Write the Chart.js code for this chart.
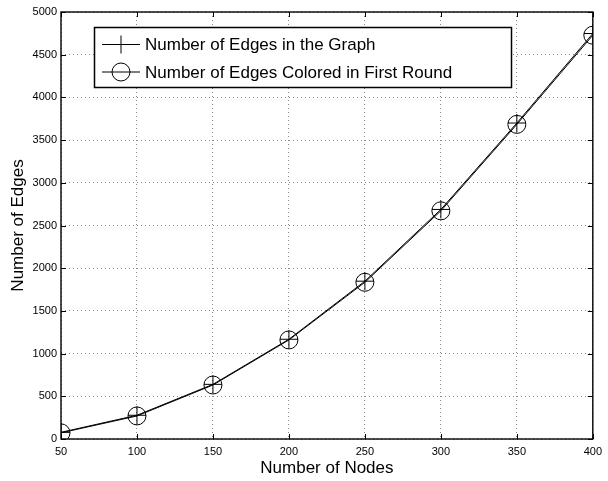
<!DOCTYPE html>
<html>
<head>
<meta charset="utf-8">
<script src="https://cdn.jsdelivr.net/npm/chart.js@4.4.1/dist/chart.umd.min.js"></script>
<style>
  html, body { margin: 0; padding: 0; background: #fff; }
  canvas { display: block; }
</style>
</head>
<body>
<canvas id="c" width="608" height="481"></canvas>
<script>
// Graph size (nodes) vs. edge counts
const nodeCounts = [50, 100, 150, 200, 250, 300, 350, 400];
const edgesInGraph = [78, 278, 640, 1168, 1848, 2688, 3700, 4748];
const edgesColoredFirstRound = [72, 270, 632, 1160, 1835, 2672, 3684, 4728];
const seriesLabels = ['Number of Edges in the Graph', 'Number of Edges Colored in First Round'];
const xAxisTitle = 'Number of Nodes';
const yAxisTitle = 'Number of Edges';

const FONT = '"Liberation Sans", Arial, Helvetica, sans-serif';

const toPoints = (ys) => nodeCounts.map((n, i) => ({ x: n, y: ys[i] }));

// Box frame with inward tick marks on all four sides
const framePlugin = {
  id: 'frame',
  afterDatasetsDraw(chart) {
    const { ctx, chartArea: a, scales: { x, y } } = chart;
    ctx.save();
    ctx.strokeStyle = '#000';
    ctx.lineWidth = 1;
    ctx.beginPath();
    const len = 5;
    x.ticks.forEach(t => {
      const px = Math.round(x.getPixelForValue(t.value)) + 0.5;
      ctx.moveTo(px, a.bottom); ctx.lineTo(px, a.bottom - len);
      ctx.moveTo(px, a.top); ctx.lineTo(px, a.top + len);
    });
    y.ticks.forEach(t => {
      const py = Math.round(y.getPixelForValue(t.value)) + 0.5;
      ctx.moveTo(a.left, py); ctx.lineTo(a.left + len, py);
      ctx.moveTo(a.right, py); ctx.lineTo(a.right - len, py);
    });
    ctx.stroke();
    ctx.lineWidth = 1.4;
    ctx.strokeRect(a.left, a.top, a.right - a.left, a.bottom - a.top);
    ctx.restore();
  }
};

// Boxed legend inside the upper-left of the plot
const boxLegendPlugin = {
  id: 'boxLegend',
  afterDraw(chart) {
    const { ctx } = chart;
    const bx = 94.5, by = 27.5, bw = 417, bh = 60;
    ctx.save();
    ctx.fillStyle = '#fff';
    ctx.fillRect(bx, by, bw, bh);
    ctx.strokeStyle = '#000';
    ctx.lineWidth = 1.5;
    ctx.strokeRect(bx, by, bw, bh);
    ctx.font = '17px ' + FONT;
    ctx.textBaseline = 'middle';
    const rows = [44.5, 72];
    chart.data.datasets.forEach((ds, i) => {
      const cy = rows[i];
      ctx.lineWidth = 1;
      ctx.strokeStyle = '#000';
      ctx.beginPath();
      ctx.moveTo(102, cy); ctx.lineTo(140, cy);
      ctx.stroke();
      ctx.fillStyle = 'rgba(0,0,0,0)';
      Chart.helpers.drawPoint(ctx, {
        pointStyle: ds.pointStyle, radius: ds.pointRadius, borderWidth: 1
      }, 121, cy);
      ctx.fillStyle = '#000';
      ctx.fillText(ds.label, 145, cy + 1);
    });
    ctx.restore();
  }
};

new Chart(document.getElementById('c'), {
  type: 'line',
  data: {
    datasets: [
      {
        label: seriesLabels[0],
        data: toPoints(edgesInGraph),
        borderColor: '#000',
        borderWidth: 1,
        pointStyle: 'cross',
        pointRadius: 9,
        pointBorderWidth: 1,
        pointBorderColor: '#000',
        pointBackgroundColor: 'rgba(0,0,0,0)',
        tension: 0
      },
      {
        label: seriesLabels[1],
        data: toPoints(edgesColoredFirstRound),
        borderColor: '#000',
        borderWidth: 1,
        pointStyle: 'circle',
        pointRadius: 9,
        pointBorderWidth: 1,
        pointBorderColor: '#000',
        pointBackgroundColor: 'rgba(0,0,0,0)',
        tension: 0
      }
    ]
  },
  options: {
    responsive: false,
    animation: false,
    devicePixelRatio: 1,
    layout: { padding: { left: 0, right: 14, top: 12, bottom: 0 } },
    plugins: {
      legend: { display: false },
      tooltip: { enabled: false }
    },
    scales: {
      x: {
        type: 'linear',
        min: 50, max: 400,
        ticks: { stepSize: 50, color: '#000', font: { family: FONT, size: 11 }, padding: 6, maxRotation: 0,
                 callback: v => String(v) },
        grid: { color: '#8a8a8a', lineWidth: 1, drawTicks: false },
        border: { display: false, dash: [1, 3] },
        title: { display: true, text: xAxisTitle, color: '#000', font: { family: FONT, size: 17 }, padding: { top: 0, bottom: 2 } },
        afterFit(s) { s.height = 42; }
      },
      y: {
        type: 'linear',
        min: 0, max: 5000,
        ticks: { stepSize: 500, color: '#000', font: { family: FONT, size: 11 }, padding: 4,
                 callback: v => String(v) },
        grid: { color: '#8a8a8a', lineWidth: 1, drawTicks: false },
        border: { display: false, dash: [1, 3] },
        title: { display: true, text: yAxisTitle, color: '#000', font: { family: FONT, size: 17 }, padding: { top: 8, bottom: 0 } },
        afterFit(s) { s.width = 61; }
      }
    }
  },
  plugins: [framePlugin, boxLegendPlugin]
});
</script>
</body>
</html>
